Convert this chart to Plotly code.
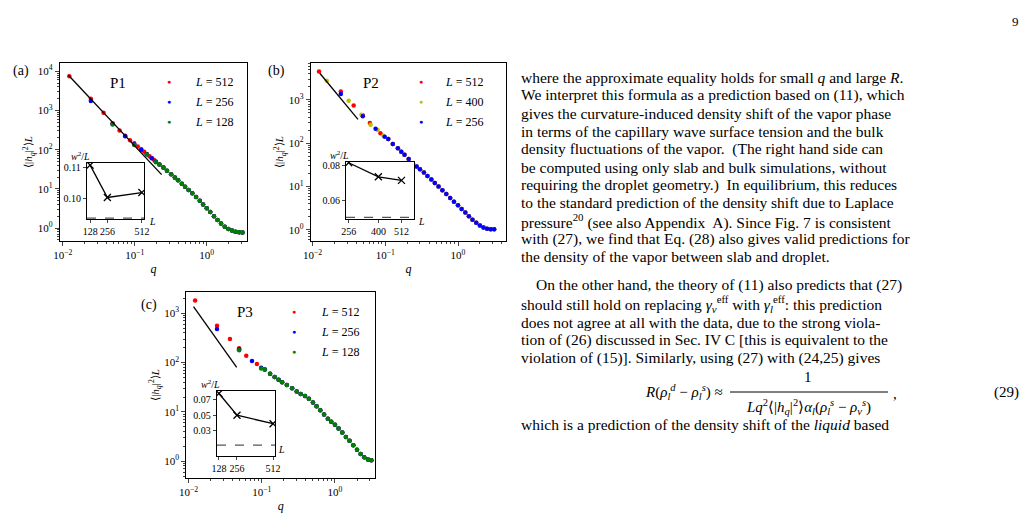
import plotly.graph_objects as go

# ---- panel (a) P1 ----
a_q512 = [0.0123, 0.0245, 0.0368, 0.0491, 0.0614, 0.0736, 0.0859, 0.0982, 0.110, 0.123, 0.135, 0.147, 0.160, 0.172, 0.184, 0.196]
a_y512 = [7500, 2000, 880, 470, 310, 225, 175, 145, 120, 102, 88, 77, 68, 61, 55, 50]
a_q256 = [0.0245, 0.0491, 0.0736, 0.0982, 0.123, 0.147, 0.172, 0.196]
a_y256 = [1750, 450, 220, 138, 100, 76, 60, 49]
a_q128 = [0.0491, 0.0982, 0.147, 0.196]
a_y128 = [440, 132, 75, 48]
a_tail_q = [0.22, 0.25, 0.28, 0.32, 0.36, 0.40, 0.45, 0.50, 0.56, 0.63, 0.71, 0.80, 0.89, 1.0, 1.12, 1.26, 1.41, 1.58, 1.78, 2.0, 2.24, 2.51, 2.82, 3.14]
a_tail_y = [42, 35, 29, 23.5, 19.5, 16.5, 13.5, 11.3, 9.4, 7.7, 6.2, 5.0, 4.0, 3.2, 2.55, 2.0, 1.6, 1.3, 1.08, 0.95, 0.86, 0.81, 0.78, 0.77]
a_guide_q = [0.0119, 0.236]
a_guide_y = [8000, 23]
a_inset_L = [128, 256, 512]
a_inset_w = [0.1107, 0.1002, 0.1018]
a_dash = 0.0935

# ---- panel (b) P2 ----
b_q512 = [0.0123, 0.0245, 0.0368, 0.0491, 0.0614, 0.0859]
b_y512 = [4500, 1560, 740, 440, 290, 170]
b_q400 = [0.0157, 0.0314, 0.0471, 0.0628, 0.0785, 0.0942]
b_y400 = [2750, 950, 450, 265, 200, 148]
b_q256 = [0.0245, 0.0491, 0.0736, 0.0982]
b_y256 = [1370, 415, 215, 140]
b_tail_q = [0.110, 0.127, 0.149, 0.166, 0.184, 0.21, 0.24, 0.27, 0.30, 0.34, 0.38, 0.43, 0.48, 0.54, 0.61, 0.69, 0.78, 0.88, 1.0, 1.12, 1.26, 1.41, 1.58, 1.78, 2.0, 2.24, 2.51, 2.82, 3.14]
b_tail_y = [124, 96, 76, 63, 54, 43, 34, 29, 25, 21, 17.5, 14.5, 12, 10, 8.2, 6.7, 5.4, 4.4, 3.7, 3.0, 2.5, 2.05, 1.7, 1.45, 1.25, 1.12, 1.05, 1.02, 1.02]
b_guide_q = [0.0126, 0.0422]
b_guide_y = [4100, 355]
b_inset_L = [256, 400, 512]
b_inset_w = [0.0815, 0.0735, 0.0715]
b_dash = 0.0505

# ---- panel (c) P3 ----
c_q512 = [0.0123, 0.0245, 0.0368, 0.0491, 0.0614, 0.0859]
c_y512 = [1800, 555, 300, 196, 137, 93]
c_q256 = [0.0245, 0.0491, 0.0736, 0.0982]
c_y256 = [480, 185, 108, 78]
c_q128 = [0.0491, 0.0982]
c_y128 = [178, 76]
c_tail_q = [0.11, 0.13, 0.15, 0.17, 0.19, 0.22, 0.26, 0.30, 0.34, 0.39, 0.44, 0.50, 0.56, 0.63, 0.71, 0.80, 0.89, 1.0, 1.12, 1.26, 1.41, 1.58, 1.78, 2.0, 2.24, 2.51, 2.82, 3.14]
c_tail_y = [72, 59, 51, 45, 40, 35, 30, 26, 23, 21, 18.5, 15.5, 13, 10.8, 8.9, 7.3, 6.3, 5.5, 4.6, 3.8, 3.1, 2.6, 2.1, 1.7, 1.4, 1.2, 1.08, 1.05]
c_guide_q = [0.0117, 0.0455]
c_guide_y = [1360, 80]
c_inset_L = [128, 256, 512]
c_inset_w = [0.078, 0.050, 0.039]
c_dash = 0.0115

RED, BLUE, GREEN, YELLOW = "#ff0000", "#0000ff", "#008000", "#bfbf00"
FONT = "Liberation Serif"

fig = go.Figure()


def pts(x, y, color, ax):
    fig.add_trace(go.Scatter(x=x, y=y, mode="markers", marker=dict(color=color, size=4.5),
                             xaxis=ax[0], yaxis=ax[1], showlegend=False, hoverinfo="skip"))


def line(x, y, ax, dash="solid", color="black", marker=None):
    fig.add_trace(go.Scatter(x=x, y=y, mode="lines+markers" if marker else "lines",
                             line=dict(color=color, width=1.3, dash=dash),
                             marker=dict(symbol="x-thin", size=7, line=dict(width=1.3, color="black")),
                             xaxis=ax[0], yaxis=ax[1], showlegend=False, hoverinfo="skip"))


# main panels
A, B, C = ("x", "y"), ("x2", "y2"), ("x3", "y3")
pts(a_q512 + a_tail_q, a_y512 + a_tail_y, RED, A)
pts(a_q256 + a_tail_q, a_y256 + a_tail_y, BLUE, A)
pts(a_q128 + a_tail_q, a_y128 + a_tail_y, GREEN, A)
line(a_guide_q, a_guide_y, A)

pts(b_q512 + b_tail_q, b_y512 + b_tail_y, RED, B)
pts(b_q400 + b_tail_q, b_y400 + b_tail_y, YELLOW, B)
pts(b_q256 + b_tail_q, b_y256 + b_tail_y, BLUE, B)
line(b_guide_q, b_guide_y, B)

pts(c_q512 + c_tail_q, c_y512 + c_tail_y, RED, C)
pts(c_q256 + c_tail_q, c_y256 + c_tail_y, BLUE, C)
pts(c_q128 + c_tail_q, c_y128 + c_tail_y, GREEN, C)
line(c_guide_q, c_guide_y, C)

# insets
IA, IB, IC = ("x4", "y4"), ("x5", "y5"), ("x6", "y6")
insets = [(IA, a_inset_L, a_inset_w, a_dash, [105, 528]),
          (IB, b_inset_L, b_inset_w, b_dash, [243, 573]),
          (IC, c_inset_L, c_inset_w, c_dash, [114, 526])]
for ax, L, w, d, xr in insets:
    line(xr, [d, d], ax, dash="dash", color="#555555")
    line(L, w, ax, marker=True)

tickfont = dict(family=FONT, size=11, color="black")
sup = {-2: "10<sup>−2</sup>", -1: "10<sup>−1</sup>", 0: "10<sup>0</sup>", 1: "10<sup>1</sup>",
       2: "10<sup>2</sup>", 3: "10<sup>3</sup>", 4: "10<sup>4</sup>"}
minor_x = [m * 10 ** e for e in (-3, -2, -1, 0) for m in range(2, 10)]
minor_y = [m * 10 ** e for e in (-1, 0, 1, 2, 3, 4) for m in range(2, 10)]


def logx(dom, rng, anchor):
    return dict(type="log", domain=dom, range=rng, anchor=anchor, showline=True, mirror=True,
                linecolor="black", linewidth=1.3, ticks="outside", ticklen=4, showgrid=False,
                automargin=False,
                tickvals=[0.01, 0.1, 1], ticktext=[sup[-2], sup[-1], sup[0]], tickfont=tickfont,
                minor=dict(tickvals=minor_x, ticks="outside", ticklen=2, showgrid=False),
                title=dict(text="<i>q</i>", font=dict(family=FONT, size=12), standoff=4), zeroline=False)


def logy(dom, rng, anchor, top):
    vals = list(range(0, top + 1))
    return dict(type="log", domain=dom, range=rng, anchor=anchor, showline=True, mirror=True,
                linecolor="black", linewidth=1.3, ticks="outside", ticklen=4, showgrid=False,
                automargin=False,
                tickvals=[10 ** v for v in vals], ticktext=[sup[v] for v in vals], tickfont=tickfont,
                minor=dict(tickvals=minor_y, ticks="outside", ticklen=2, showgrid=False),
                title=dict(text="⟨|<i>h</i><sub><i>q</i></sub>|<sup>2</sup>⟩<i>L</i>",
                           font=dict(family=FONT, size=11), standoff=2), zeroline=False)


def linx(dom, rng, anchor, vals):
    return dict(domain=dom, range=rng, anchor=anchor, showline=True, mirror=True, linecolor="black",
                linewidth=1.3, ticks="outside", ticklen=3, showgrid=False, zeroline=False,
                automargin=False,
                tickvals=vals, tickfont=dict(family=FONT, size=10, color="black"))


def liny(dom, rng, anchor, vals, fmt):
    return dict(domain=dom, range=rng, anchor=anchor, showline=True, mirror=True, linecolor="black",
                linewidth=1.3, ticks="outside", ticklen=3, showgrid=False, zeroline=False,
                automargin=False,
                tickvals=vals, tickformat=fmt, tickfont=dict(family=FONT, size=10, color="black"))


fig.update_layout(
    width=1029, height=521, margin=dict(l=0, r=0, t=0, b=0, autoexpand=False),
    paper_bgcolor="white", plot_bgcolor="white",
    font=dict(family=FONT, color="black"),
    xaxis=logx([0.0505, 0.2323], [-2.04, 0.56], "y"),
    yaxis=logy([0.5528, 0.8944], [-0.33, 4.21], "x", 4),
    xaxis2=logx([0.2945, 0.4840], [-2.02, 0.66], "y2"),
    yaxis2=logy([0.5528, 0.8944], [-0.26, 3.85], "x2", 3),
    xaxis3=logx([0.1733, 0.3569], [-2.03, 0.55], "y3"),
    yaxis3=logy([0.0979, 0.4549], [-0.34, 3.43], "x3", 3),
    xaxis4=linx([0.0768, 0.1322], [105, 528], "y4", [128, 256, 512]),
    yaxis4=liny([0.595, 0.7025], [0.0932, 0.1114], "x4", [0.10, 0.11], ".2f"),
    xaxis5=linx([0.3285, 0.3946], [243, 573], "y5", [256, 400, 512]),
    yaxis5=liny([0.595, 0.7044], [0.0496, 0.0819], "x5", [0.06, 0.08], ".2f"),
    xaxis6=linx([0.2031, 0.2595], [114, 526], "y6", [128, 256, 512]),
    yaxis6=liny([0.1401, 0.2649], [-0.0026, 0.0812], "x6", [0.03, 0.05, 0.07], ".2f"),
)


def txt(x, y, s, size=14, xanchor="left", color="black"):
    fig.add_annotation(x=x / 1029, y=1 - y / 521, xref="paper", yref="paper", text=s, showarrow=False,
                       xanchor=xanchor, yanchor="middle", borderpad=0,
                       font=dict(family=FONT, size=size, color=color))


# panel labels, titles, legends
txt(4, 63, "(a)", 14)
txt(259, 63, "(b)", 14)
txt(132, 297, "(c)", 14)
txt(110, 75, "P1", 15, "center")
txt(363, 75, "P2", 15, "center")
txt(237, 304, "P3", 15, "center")
legends = [((160.7, 186, 74), [("512", RED), ("256", BLUE), ("128", GREEN)]),
           ((413.3, 436, 74), [("512", RED), ("400", YELLOW), ("256", BLUE)]),
           ((286, 312, 304), [("512", RED), ("256", BLUE), ("128", GREEN)])]
for (xd, xt, y0), items in legends:
    for i, (lab, col) in enumerate(items):
        yy = y0 + i * 20
        txt(xd, yy, "●", 7, "center", col)
        txt(xt, yy, "<i>L</i> = " + lab, 12)
# inset labels
for (xw, yw), (xl, yl) in [((62, 148), (140, 213)), ((321, 147), (409, 213)), ((192, 376), (269, 441))]:
    txt(xw, yw, "<i>w</i><sup>2</sup>/<i>L</i>", 10)
    txt(xl, yl, "<i>L</i>", 10)

# page text
txt(1012, 13, "9", 13, "right")
lines = [
    (512, 69, "where the approximate equality holds for small <i>q</i> and large <i>R</i>."),
    (512, 87, "We interpret this formula as a prediction based on (11), which"),
    (512, 105, "gives the curvature-induced density shift of the vapor phase"),
    (512, 123, "in terms of the capillary wave surface tension and the bulk"),
    (512, 141, "density fluctuations of the vapor.  (The right hand side can"),
    (512, 159, "be computed using only slab and bulk simulations, without"),
    (512, 177, "requiring the droplet geometry.)  In equilibrium, this reduces"),
    (512, 195, "to the standard prediction of the density shift due to Laplace"),
    (512, 213, "pressure<sup>20</sup> (see also Appendix  A). Since Fig. 7 is consistent"),
    (512, 231, "with (27), we find that Eq. (28) also gives valid predictions for"),
    (512, 249, "the density of the vapor between slab and droplet."),
    (527, 277, "On the other hand, the theory of (11) also predicts that (27)"),
    (512, 296, "should still hold on replacing <i>γ</i><sub><i>v</i></sub><sup>eff</sup> with <i>γ</i><sub><i>l</i></sub><sup>eff</sup>: this prediction"),
    (512, 314, "does not agree at all with the data, due to the strong viola-"),
    (512, 332, "tion of (26) discussed in Sec. IV C [this is equivalent to the"),
    (512, 350, "violation of (15)]. Similarly, using (27) with (24,25) gives"),
    (512, 416, "which is a prediction of the density shift of the <i>liquid</i> based"),
]
for x, y, s in lines:
    txt(x, y, s, 15.5)

# equation (29)
txt(716, 384, "<i>R</i>(<i>ρ</i><sub><i>l</i></sub><sup><i>d</i></sup> − <i>ρ</i><sub><i>l</i></sub><sup><i>s</i></sup>) ≈", 15, "right")
txt(800, 369, "1", 15, "center")
txt(800, 399, "<i>Lq</i><sup>2</sup>⟨|<i>h</i><sub><i>q</i></sub>|<sup>2</sup>⟩<i>α</i><sub><i>l</i></sub>(<i>ρ</i><sub><i>l</i></sub><sup><i>s</i></sup> − <i>ρ</i><sub><i>v</i></sub><sup><i>s</i></sup>)", 15, "center")
txt(884, 386, ",", 15)
txt(1012, 384, "(29)", 15, "right")
fig.add_shape(type="line", xref="paper", yref="paper", x0=722 / 1029, x1=880 / 1029,
              y0=1 - 384 / 521, y1=1 - 384 / 521, line=dict(color="black", width=1))

fig.write_html("out.html")
